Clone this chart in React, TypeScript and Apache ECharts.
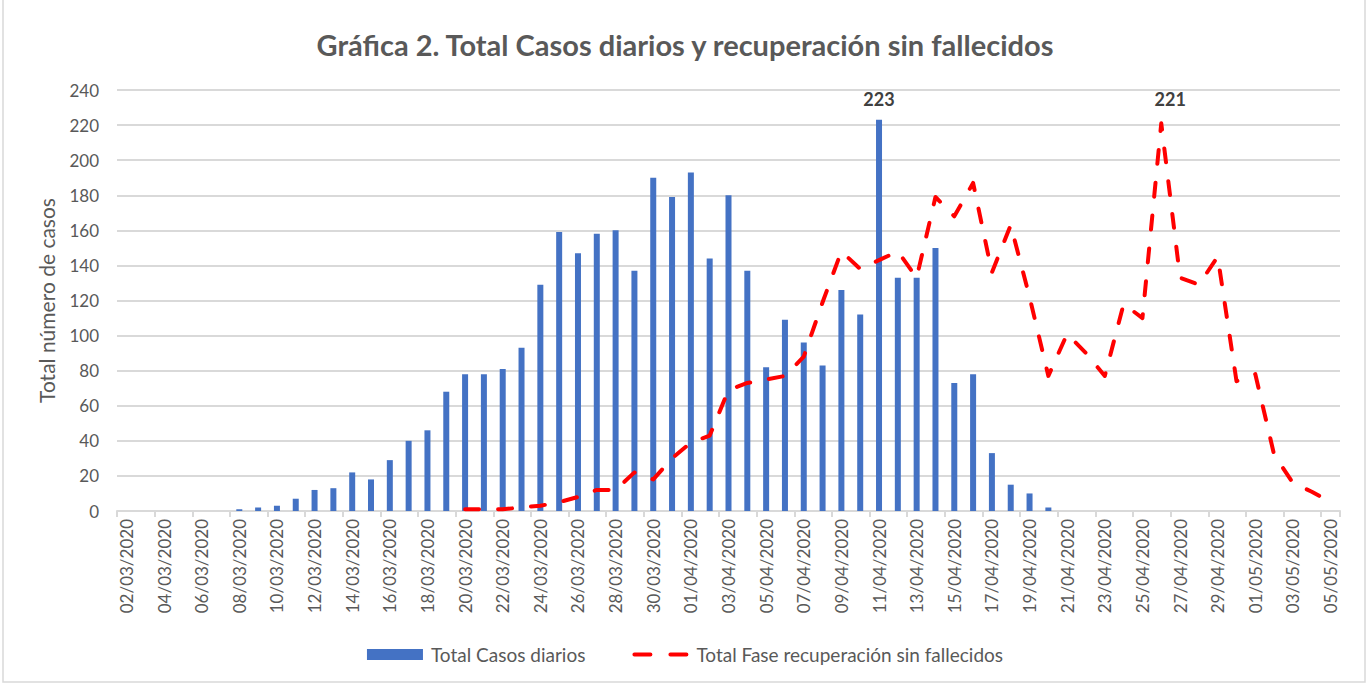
import React, { useEffect, useRef } from "react";
import * as echarts from "echarts";

const dates: string[] = [
  "02/03/2020", "03/03/2020", "04/03/2020", "05/03/2020", "06/03/2020", "07/03/2020",
  "08/03/2020", "09/03/2020", "10/03/2020", "11/03/2020", "12/03/2020", "13/03/2020",
  "14/03/2020", "15/03/2020", "16/03/2020", "17/03/2020", "18/03/2020", "19/03/2020",
  "20/03/2020", "21/03/2020", "22/03/2020", "23/03/2020", "24/03/2020", "25/03/2020",
  "26/03/2020", "27/03/2020", "28/03/2020", "29/03/2020", "30/03/2020", "31/03/2020",
  "01/04/2020", "02/04/2020", "03/04/2020", "04/04/2020", "05/04/2020", "06/04/2020",
  "07/04/2020", "08/04/2020", "09/04/2020", "10/04/2020", "11/04/2020", "12/04/2020",
  "13/04/2020", "14/04/2020", "15/04/2020", "16/04/2020", "17/04/2020", "18/04/2020",
  "19/04/2020", "20/04/2020", "21/04/2020", "22/04/2020", "23/04/2020", "24/04/2020",
  "25/04/2020", "26/04/2020", "27/04/2020", "28/04/2020", "29/04/2020", "30/04/2020",
  "01/05/2020", "02/05/2020", "03/05/2020", "04/05/2020", "05/05/2020",
];

const casosDiarios: (number | null)[] = [
  0, 0, 0, 0, 0, 0,
  1, 2, 3, 7, 12, 13,
  22, 18, 29, 40, 46, 68,
  78, 78, 81, 93, 129, 159,
  147, 158, 160, 137, 190, 179,
  193, 144, 180, 137, 82, 109,
  96, 83, 126, 112, 223, 133,
  133, 150, 73, 78, 33, 15,
  10, 2, 0, 0, 0, 0,
  0, 0, 0, 0, 0, 0,
  0, 0, 0, 0, 0,
];

const recuperacion: (number | null)[] = [
  null, null, null, null, null, null,
  null, null, null, null, null, null,
  null, null, null, null, null, null,
  1, 1, 1, 2, 3, 5,
  8, 12, 12, 22, 18, 30,
  39, 43, 69, 73, 75, 77,
  88, 119, 148, 138, 143, 148,
  133, 179, 168, 187, 136, 163,
  122, 77, 101, 90, 77, 118,
  110, 221, 133, 129, 145, 74,
  78, 32, 16, 11, 5,
];

const yTicks = { min: 0, max: 240, interval: 20 };

const TITLE = "Gráfica 2. Total Casos diarios y recuperación sin fallecidos";
const BAR_NAME = "Total Casos diarios";
const LINE_NAME = "Total Fase recuperación sin fallecidos";
const Y_NAME = "Total número de casos";

const FONT = "Lato";
const GRAY = "#595959";
const GRID = "#d9d9d9";

export default function App() {
  const ref = useRef<HTMLDivElement>(null);

  useEffect(() => {
    document.body.style.margin = "0";
    if (!ref.current) return;
    const chart = echarts.init(ref.current, null, { renderer: "svg" });

    const maxBar = Math.max(...(casosDiarios.filter((v) => v != null) as number[]));
    const maxLine = Math.max(...(recuperacion.filter((v) => v != null) as number[]));
    const maxLineIdx = recuperacion.indexOf(maxLine);

    const barData = casosDiarios.map((v) =>
      v === maxBar
        ? {
            value: v,
            label: {
              show: true,
              position: "top",
              distance: 12,
              fontFamily: FONT,
              fontWeight: "bold",
              fontSize: 18,
              color: "#404040",
            },
          }
        : v
    );

    chart.setOption({
      animation: false,
      backgroundColor: "#ffffff",
      textStyle: { fontFamily: FONT },
      title: {
        text: TITLE,
        left: "center",
        top: 25,
        textStyle: { fontFamily: FONT, fontWeight: "bold", fontSize: 29, color: GRAY },
      },
      graphic: [
        {
          type: "rect",
          shape: { x: 3, y: -2, width: 1362, height: 684 },
          style: { fill: "none", stroke: GRID, lineWidth: 1.5 },
          silent: true,
        },
      ],
      grid: { left: 117, right: 30, top: 90, bottom: 173, containLabel: false },
      legend: {
        bottom: 15,
        left: "center",
        itemWidth: 56,
        itemHeight: 11,
        itemGap: 47,
        textStyle: { fontFamily: FONT, fontSize: 19, color: GRAY, padding: [0, 0, 0, 3] },
        data: [
          { name: BAR_NAME, icon: "rect" },
          {
            name: LINE_NAME,
            icon: "path://M2,0L18,0A2,2,0,0,1,18,4L2,4A2,2,0,0,1,2,0Z M38,0L54,0A2,2,0,0,1,54,4L38,4A2,2,0,0,1,38,0Z",
            itemStyle: { color: "#FF0000" },
          },
        ],
      },
      xAxis: {
        type: "category",
        data: dates,
        boundaryGap: true,
        axisLine: { show: true, lineStyle: { color: GRID, width: 2 } },
        axisTick: { show: true, interval: 1, length: 6, lineStyle: { color: GRID, width: 2 } },
        axisLabel: {
          interval: 1,
          rotate: 90,
          margin: 8,
          fontFamily: FONT,
          fontSize: 17,
          color: GRAY,
        },
        splitLine: { show: false },
      },
      yAxis: {
        type: "value",
        min: yTicks.min,
        max: yTicks.max,
        interval: yTicks.interval,
        name: Y_NAME,
        nameLocation: "middle",
        nameGap: 60,
        nameTextStyle: { fontFamily: FONT, fontSize: 21, color: GRAY },
        axisLine: { show: false },
        axisTick: { show: false },
        axisLabel: { margin: 18, fontFamily: FONT, fontSize: 17, color: GRAY },
        splitLine: { show: true, lineStyle: { color: GRID, width: 2 } },
      },
      series: [
        {
          name: BAR_NAME,
          type: "bar",
          data: barData,
          barWidth: 6,
          itemStyle: { color: "#4472C4" },
        },
        {
          name: LINE_NAME,
          type: "line",
          data: recuperacion,
          symbol: "none",
          connectNulls: false,
          lineStyle: { color: "#FF0000", width: 4, type: [14, 19], cap: "round", join: "round" },
          itemStyle: { color: "#FF0000" },
          markPoint: {
            symbol: "circle",
            symbolSize: 0,
            data: [
              {
                coord: [maxLineIdx, maxLine],
                value: maxLine,
                label: {
                  show: true,
                  position: "top",
                  distance: 15,
                  offset: [9, 0],
                  formatter: String(maxLine),
                  fontFamily: FONT,
                  fontWeight: "bold",
                  fontSize: 18,
                  color: "#404040",
                },
              },
            ],
          },
        },
      ],
    });

    return () => chart.dispose();
  }, []);

  return (
    <div
      ref={ref}
      style={{ position: "absolute", left: 0, top: 0, width: 1370, height: 684 }}
    />
  );
}
